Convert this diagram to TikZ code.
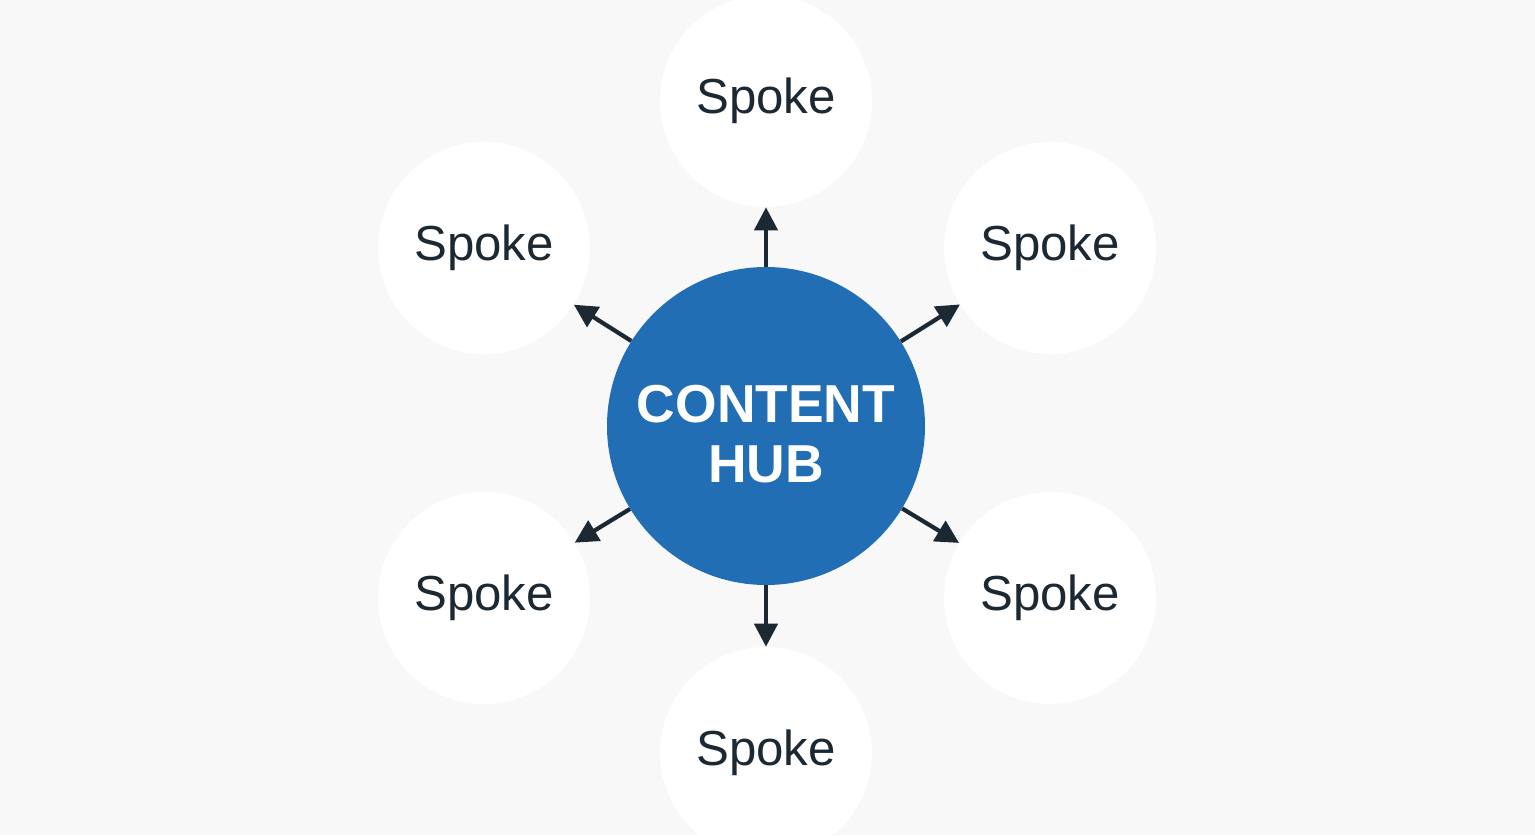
\documentclass[tikz,border=0pt]{standalone}
\usepackage{fontspec}
\setmainfont{Liberation Sans}
\usetikzlibrary{arrows.meta}
\definecolor{hubblue}{RGB}{33,110,180}
\definecolor{ink}{RGB}{28,40,50}
\definecolor{bggray}{RGB}{248,248,249}

\begin{document}
\begin{tikzpicture}[
  hubnode/.style={circle, fill=hubblue, minimum size=7.95cm, inner sep=0pt},
  hubtext/.style={text=white, align=center, yshift=-0.2cm,
    font=\fontsize{38}{43}\selectfont\bfseries},
  spokenode/.style={circle, fill=white, minimum size=5.3cm, inner sep=0pt,
    text=ink, font=\fontsize{35}{42}\selectfont},
  spokearrow/.style={ink, line width=3pt, -{Triangle[length=0.58cm, width=0.58cm]}}
]
\clip (-19.15,-10.225) rectangle (19.225,10.65);
\fill[bggray] (-19.15,-10.225) rectangle (19.225,10.65);
\node[hubnode, label={[hubtext]center:CONTENT\\HUB}] (hub) at (0,0) {};
\node[spokenode] (top) at (0,8.125) {Spoke};
\node[spokenode] (upleft) at (-7.05,4.45) {Spoke};
\node[spokenode] (upright) at (7.1,4.45) {Spoke};
\node[spokenode] (lowleft) at (-7.05,-4.3) {Spoke};
\node[spokenode] (lowright) at (7.1,-4.3) {Spoke};
\node[spokenode] (bottom) at (0,-8.175) {Spoke};
\draw[spokearrow] (hub) -- (top);
\draw[spokearrow] (hub) -- (upleft);
\draw[spokearrow] (hub) -- (upright);
\draw[spokearrow] (hub) -- (lowleft);
\draw[spokearrow] (hub) -- (lowright);
\draw[spokearrow] (hub) -- (bottom);
\end{tikzpicture}
\end{document}
